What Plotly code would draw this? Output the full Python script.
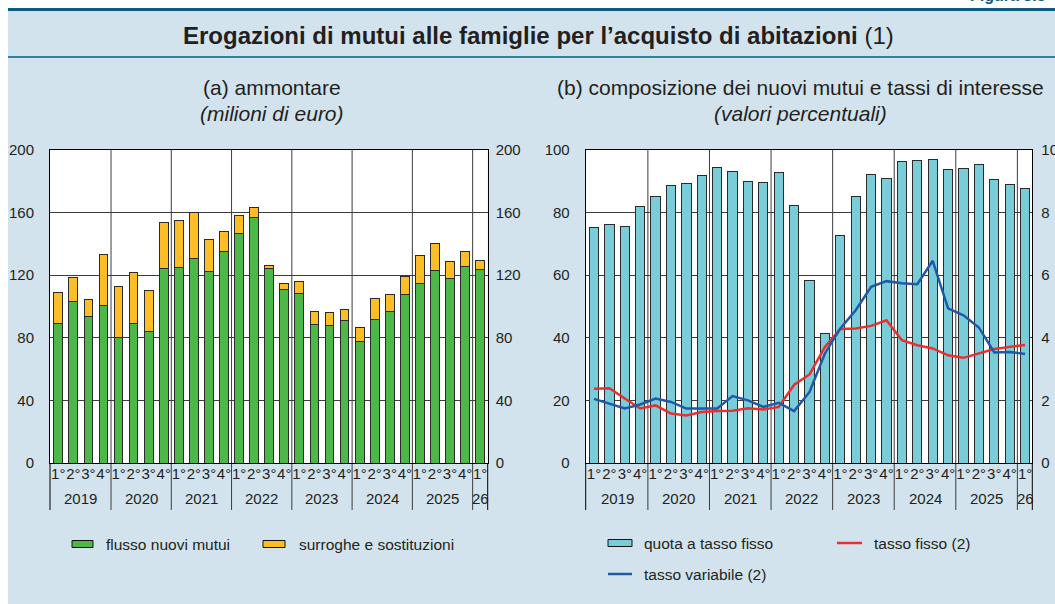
import plotly.graph_objects as go

# ---------------- data ----------------
quarter_labels = ["1°", "2°", "3°", "4°", "1°", "2°", "3°", "4°", "1°", "2°", "3°", "4°",
                  "1°", "2°", "3°", "4°", "1°", "2°", "3°", "4°", "1°", "2°", "3°", "4°",
                  "1°", "2°", "3°", "4°", "1°"]
year_labels = ["2019", "2020", "2021", "2022", "2023", "2024", "2025", "26"]
quarters_per_year = [4, 4, 4, 4, 4, 4, 4, 1]

# (a) ammontare, milioni di euro
flusso_nuovi_mutui = [89.3, 103.2, 93.6, 100.9, 80.0, 89.3, 84.2, 124.5, 125.0, 130.5, 122.2, 135.0,
                      146.7, 157.1, 124.3, 110.7, 108.3, 88.5, 87.8, 90.8, 77.6, 91.7, 96.6, 107.9,
                      114.9, 123.2, 118.1, 125.8, 123.5]
surroghe_sostituzioni = [19.9, 15.4, 10.9, 32.4, 32.8, 32.2, 25.8, 29.0, 30.0, 29.5, 20.7, 13.0,
                         11.3, 6.2, 2.1, 3.8, 7.7, 8.1, 8.4, 7.1, 8.8, 13.4, 11.1, 11.5,
                         17.9, 17.1, 10.5, 9.2, 5.9]

# (b) composizione e tassi, valori percentuali
quota_tasso_fisso = [75.3, 76.1, 75.5, 81.9, 85.1, 88.7, 89.4, 91.7, 94.3, 93.0, 89.9, 89.7,
                     92.9, 82.3, 58.3, 41.4, 72.6, 85.1, 92.1, 90.8, 96.4, 96.8, 96.9, 93.8,
                     94.0, 95.4, 90.6, 89.0, 87.7]
tasso_fisso = [2.37, 2.39, 2.06, 1.74, 1.84, 1.58, 1.52, 1.63, 1.66, 1.67, 1.75, 1.71,
               1.79, 2.50, 2.83, 3.71, 4.28, 4.30, 4.38, 4.56, 3.92, 3.76, 3.66, 3.44,
               3.36, 3.50, 3.64, 3.71, 3.77]
tasso_variabile = [2.05, 1.90, 1.74, 1.87, 2.06, 1.95, 1.74, 1.74, 1.74, 2.14, 2.00, 1.79,
                   1.92, 1.66, 2.27, 3.50, 4.30, 4.88, 5.63, 5.81, 5.74, 5.71, 6.46, 4.94,
                   4.72, 4.33, 3.53, 3.55, 3.48]

# ---------------- layout helpers ----------------
W, H = 1055, 604
FONT = "Liberation Sans, Arial, sans-serif"
TXT = "#231f20"
BG = "#d2e3ed"
GREEN, ORANGE, CYAN = "#4db848", "#fdbd24", "#79cdd9"
RED, BLUE = "#e8312f", "#1f5aa8"
OUTLINE = "#2b2b2b"
GRID = "#3c3c3c"


def fx(px):
    return px / W


def fy(py):
    return 1 - py / H


pos = list(range(len(quarter_labels)))

fig = go.Figure()

# (a) stacked bars
fig.add_trace(go.Bar(x=pos, y=flusso_nuovi_mutui, name="flusso nuovi mutui", width=0.58,
                     marker=dict(color=GREEN, line=dict(color=OUTLINE, width=1)),
                     xaxis="x", yaxis="y", showlegend=False, hoverinfo="skip"))
fig.add_trace(go.Bar(x=pos, y=surroghe_sostituzioni, name="surroghe e sostituzioni", width=0.58,
                     marker=dict(color=ORANGE, line=dict(color=OUTLINE, width=1)),
                     xaxis="x", yaxis="y", showlegend=False, hoverinfo="skip"))
# invisible trace to activate the mirrored right axis of panel (a)
fig.add_trace(go.Scatter(x=pos, y=flusso_nuovi_mutui, mode="lines", line=dict(width=0),
                         opacity=0, xaxis="x", yaxis="y3", showlegend=False, hoverinfo="skip"))

# (b) bars + lines
fig.add_trace(go.Bar(x=pos, y=quota_tasso_fisso, name="quota a tasso fisso", width=0.6,
                     marker=dict(color=CYAN, line=dict(color=OUTLINE, width=1)),
                     xaxis="x2", yaxis="y2", showlegend=False, hoverinfo="skip"))
fig.add_trace(go.Scatter(x=pos, y=tasso_fisso, name="tasso fisso (2)", mode="lines",
                         line=dict(color=RED, width=2.5),
                         xaxis="x2", yaxis="y4", showlegend=False, hoverinfo="skip"))
fig.add_trace(go.Scatter(x=pos, y=tasso_variabile, name="tasso variabile (2)", mode="lines",
                         line=dict(color=BLUE, width=2.5),
                         xaxis="x2", yaxis="y4", showlegend=False, hoverinfo="skip"))

dom_y = [fy(463), fy(150)]
dom_x1 = [fx(50), fx(487.7)]
dom_x2 = [fx(585.7), fx(1032.3)]
tickfont = dict(family=FONT, size=15, color=TXT)

xcommon = dict(tickmode="array", tickvals=pos, ticktext=quarter_labels, tickangle=0,
               showgrid=False, zeroline=False, showline=True, mirror=True,
               linecolor="#000", linewidth=1, ticks="", tickfont=tickfont,
               ticklabelstandoff=-3, automargin=False, fixedrange=True)
ycommon = dict(showgrid=True, gridcolor=GRID, gridwidth=1, zeroline=False,
               showline=True, mirror=True, linecolor="#000", linewidth=1,
               ticks="", tickfont=tickfont, automargin=False, fixedrange=True)

fig.update_layout(
    width=W, height=H,
    margin=dict(l=0, r=0, t=0, b=0),
    paper_bgcolor=BG, plot_bgcolor="white",
    barmode="stack",
    font=dict(family=FONT, color=TXT),
    xaxis=dict(domain=dom_x1, range=[-0.55, 28.5], anchor="y", **xcommon),
    yaxis=dict(domain=dom_y, range=[0, 200], dtick=40, anchor="x",
               ticklabelstandoff=12, **ycommon),
    yaxis3=dict(overlaying="y", side="right", anchor="x", range=[0, 200], dtick=40,
                showgrid=False, zeroline=False, showline=False, ticks="",
                tickfont=tickfont, ticklabelstandoff=7, automargin=False, fixedrange=True),
    xaxis2=dict(domain=dom_x2, range=[-0.54, 28.47], anchor="y2", **xcommon),
    yaxis2=dict(domain=dom_y, range=[0, 100], dtick=20, anchor="x2",
                ticklabelstandoff=12, **ycommon),
    yaxis4=dict(overlaying="y2", side="right", anchor="x2", range=[0, 10], dtick=2,
                showgrid=False, zeroline=False, showline=False, ticks="",
                tickfont=tickfont, ticklabelstandoff=8, automargin=False, fixedrange=True),
)

shapes = []
annotations = []

# white outer strips, header rules
shapes.append(dict(type="rect", xref="paper", yref="paper", x0=0, x1=fx(8), y0=0, y1=1,
                   fillcolor="white", line=dict(width=0), layer="above"))
shapes.append(dict(type="rect", xref="paper", yref="paper", x0=0, x1=1, y0=fy(8), y1=1,
                   fillcolor="white", line=dict(width=0), layer="above"))
shapes.append(dict(type="rect", xref="paper", yref="paper", x0=fx(8), x1=1, y0=fy(11), y1=fy(8),
                   fillcolor="#0d5b82", line=dict(width=0), layer="above"))
shapes.append(dict(type="rect", xref="paper", yref="paper", x0=fx(8), x1=1, y0=fy(58), y1=fy(56),
                   fillcolor="#367f9a", line=dict(width=0), layer="above"))

# year dividers (inside plot as grid, extending below the axis)
starts = []
s = 0
for n in quarters_per_year:
    starts.append(s)
    s += n
for xa in ["x", "x2"]:
    for st in starts[1:]:
        shapes.append(dict(type="line", xref=xa, yref="paper", x0=st - 0.5, x1=st - 0.5,
                           y0=fy(510), y1=fy(150), line=dict(color=GRID, width=1), layer="below"))
    for edge in [0, 1]:
        shapes.append(dict(type="line", xref=xa + " domain", yref="paper", x0=edge, x1=edge,
                           y0=fy(510), y1=fy(463), line=dict(color="#000", width=1), layer="above"))
    for st, n, lab in zip(starts, quarters_per_year, year_labels):
        annotations.append(dict(xref=xa, yref="paper", x=st + (n - 1) / 2, y=fy(499),
                                text=lab, showarrow=False, xanchor="center", yanchor="middle",
                                font=dict(family=FONT, size=15, color=TXT)))

# titles
annotations.append(dict(xref="paper", yref="paper", x=fx(538), y=fy(35),
                        text="<b>Erogazioni di mutui alle famiglie per l’acquisto di abitazioni</b> (1)",
                        showarrow=False, xanchor="center", yanchor="middle",
                        font=dict(family=FONT, size=24, color=TXT)))
annotations.append(dict(xref="paper", yref="paper", x=fx(968), y=fy(6),
                        text="<b>Figura 3.5</b>", showarrow=False, xanchor="left", yanchor="bottom",
                        font=dict(family=FONT, size=16, color="#0d5b82")))
for cx, t1, t2 in [(272, "(a) ammontare", "(milioni di euro)"),
                   (800, "(b) composizione dei nuovi mutui e tassi di interesse", "(valori percentuali)")]:
    annotations.append(dict(xref="paper", yref="paper", x=fx(cx), y=fy(88), text=t1,
                            showarrow=False, xanchor="center", yanchor="middle",
                            font=dict(family=FONT, size=21, color=TXT)))
    annotations.append(dict(xref="paper", yref="paper", x=fx(cx), y=fy(113), text="<i>" + t2 + "</i>",
                            showarrow=False, xanchor="center", yanchor="middle",
                            font=dict(family=FONT, size=21, color=TXT)))

# legends (drawn manually)
def legend_box(x0, x1, yc, color, label, tx):
    shapes.append(dict(type="rect", xref="paper", yref="paper", x0=fx(x0), x1=fx(x1),
                       y0=fy(yc + 3.5), y1=fy(yc - 3.5), fillcolor=color,
                       line=dict(color="#111", width=1), layer="above"))
    annotations.append(dict(xref="paper", yref="paper", x=fx(tx), y=fy(yc), text=label,
                            showarrow=False, xanchor="left", yanchor="middle",
                            font=dict(family=FONT, size=15.5, color=TXT)))


def legend_line(x0, x1, yc, color, label, tx):
    shapes.append(dict(type="line", xref="paper", yref="paper", x0=fx(x0), x1=fx(x1),
                       y0=fy(yc), y1=fy(yc), line=dict(color=color, width=2.5), layer="above"))
    annotations.append(dict(xref="paper", yref="paper", x=fx(tx), y=fy(yc), text=label,
                            showarrow=False, xanchor="left", yanchor="middle",
                            font=dict(family=FONT, size=15.5, color=TXT)))


legend_box(72, 93, 544, GREEN, "flusso nuovi mutui", 104)
legend_box(263, 285, 544, ORANGE, "surroghe e sostituzioni", 297)
legend_box(608, 632, 543, CYAN, "quota a tasso fisso", 642)
legend_line(837, 862, 543, RED, "tasso fisso (2)", 872)
legend_line(608, 632, 574, BLUE, "tasso variabile (2)", 642)

fig.update_layout(shapes=shapes, annotations=annotations)

# the page itself has no body margin; the white edges are drawn above
fig.write_html("out.html", config={"displayModeBar": False},
               post_script="document.body.style.margin='0';")
